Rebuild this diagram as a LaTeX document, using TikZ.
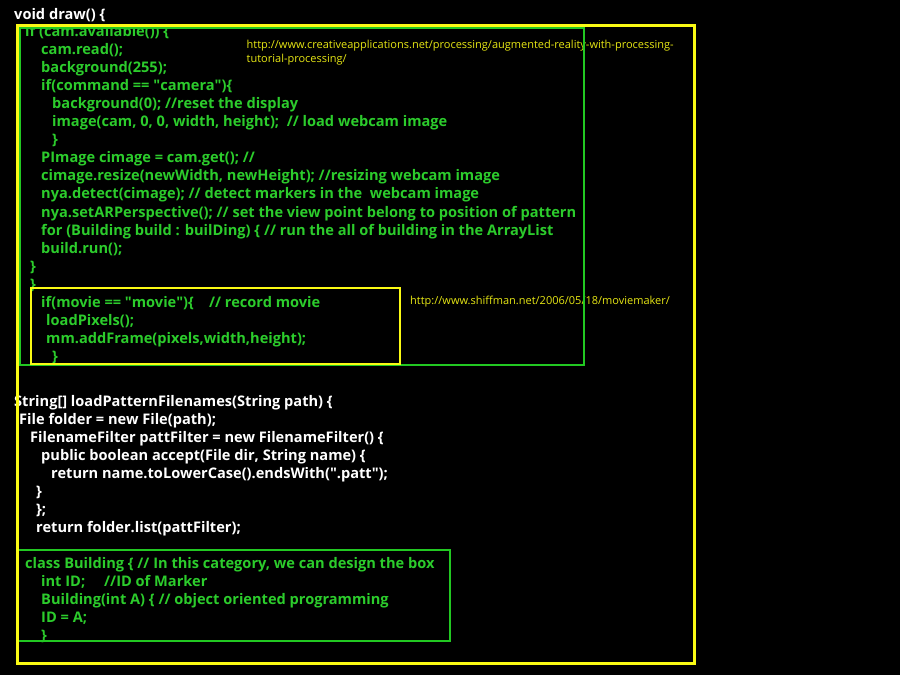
\documentclass[tikz,border=0pt]{standalone}
\usepackage{fontspec}
\setmainfont{Open Sans}
\definecolor{codegreen}{RGB}{44,204,44}
\definecolor{boxgreen}{RGB}{34,200,34}
\definecolor{boxyellow}{RGB}{250,250,20}
\definecolor{urlyellow}{RGB}{230,230,20}

\begin{document}
\begin{tikzpicture}[x=1pt,y=-1pt,
    codeline/.style={anchor=base west,inner sep=0pt,font=\fontsize{14.6}{16}\selectfont\bfseries},
    greencode/.style={codeline,text=codegreen},
    whitecode/.style={codeline,text=white},
    urltext/.style={anchor=base west,inner sep=0pt,text=urlyellow,font=\fontsize{11}{13}\selectfont}]
    \fill[black] (0,0) rectangle (900,675);
    % draw()
    \node[whitecode] (voiddraw) at (14,19.5) {void draw() \{};
    \node[greencode] (camavail) at (25,36) {if (cam.available()) \{};
    \node[greencode] (camread) at (41,54.1) {cam.read();};
    \node[greencode] (bgwhite) at (41,72.2) {background(255);};
    \node[greencode] (ifcommand) at (41,90.3) {if(command == \textquotedbl camera\textquotedbl)\{};
    \node[greencode] (bgblack) at (52,108.4) {background(0); //reset the display};
    \node[greencode] (image) at (52,126.5) {image(cam, 0, 0, width, height);\ \ // load webcam image};
    \node[greencode] (closecommand) at (52,144.6) {\}};
    \node[greencode] (pimage) at (41,162.7) {PImage cimage = cam.get(); //};
    \node[greencode] (resize) at (41,180.8) {cimage.resize(newWidth, newHeight); //resizing webcam image};
    \node[greencode] (detect) at (41,198.9) {nya.detect(cimage); // detect markers in the\ \ webcam image};
    \node[greencode] (perspective) at (41,217) {nya.setARPerspective(); // set the view point belong to position of pattern};
    \node[greencode] (forbuild) at (41,235.1) {for (Building build : builDing) \{ // run the all of building in the ArrayList};
    \node[greencode] (buildrun) at (41,253.2) {build.run();};
    \node[greencode] (closeavail) at (30,271.3) {\}};
    \node[greencode] (closedraw) at (30,289.4) {\}};
    \node[greencode] (ifmovie) at (41,307.5) {if(movie == \textquotedbl movie\textquotedbl)\{\ \ \ \ // record movie};
    \node[greencode] (loadpixels) at (46,325.6) {loadPixels();};
    \node[greencode] (addframe) at (46,343.7) {mm.addFrame(pixels,width,height);};
    \node[greencode] (closemovie) at (52,361.8) {\}};
    % loadPatternFilenames()
    \node[whitecode] (loadpattern) at (14,406.5) {String[] loadPatternFilenames(String path) \{};
    \node[whitecode] (folder) at (19,424.5) {File folder = new File(path);};
    \node[whitecode] (pattfilter) at (30,442.5) {FilenameFilter pattFilter = new FilenameFilter() \{};
    \node[whitecode] (accept) at (41,460.5) {public boolean accept(File dir, String name) \{};
    \node[whitecode] (retname) at (51,478.5) {return name.toLowerCase().endsWith(\textquotedbl.patt\textquotedbl);};
    \node[whitecode] (closeaccept) at (36,496.5) {\}};
    \node[whitecode] (closefilter) at (36,514.5) {\};};
    \node[whitecode] (retlist) at (36,532.5) {return folder.list(pattFilter);};
    % class Building
    \node[greencode] (classbuild) at (25,568.5) {class Building \{ // In this category, we can design the box};
    \node[greencode] (intid) at (41,586.5) {int ID;\ \ \ \ \ //ID of Marker};
    \node[greencode] (constructor) at (41,604.5) {Building(int A) \{ // object oriented programming};
    \node[greencode] (setid) at (41,622.5) {ID = A;};
    \node[greencode] (closeclass) at (41,640.5) {\}};
    % links
    \node[urltext] (creativeurl) at (246.5,48.5) {http://www.creativeapplications.net/processing/augmented-reality-with-processing-};
    \node[urltext] (creativeurlb) at (246.5,62) {tutorial-processing/};
    \node[urltext] (shiffmanurl) at (410,304) {http://www.shiffman.net/2006/05/18/moviemaker/};
    % boxes
    \draw[boxgreen,line width=2.5] (20,28) rectangle (584,365);
    \draw[boxyellow,line width=2.5] (31,288) rectangle (400,364);
    \draw[boxgreen,line width=2.5] (18,550) rectangle (450,641);
    \draw[boxyellow,line width=3] (17,25.5) rectangle (694,663);
\end{tikzpicture}
\end{document}
